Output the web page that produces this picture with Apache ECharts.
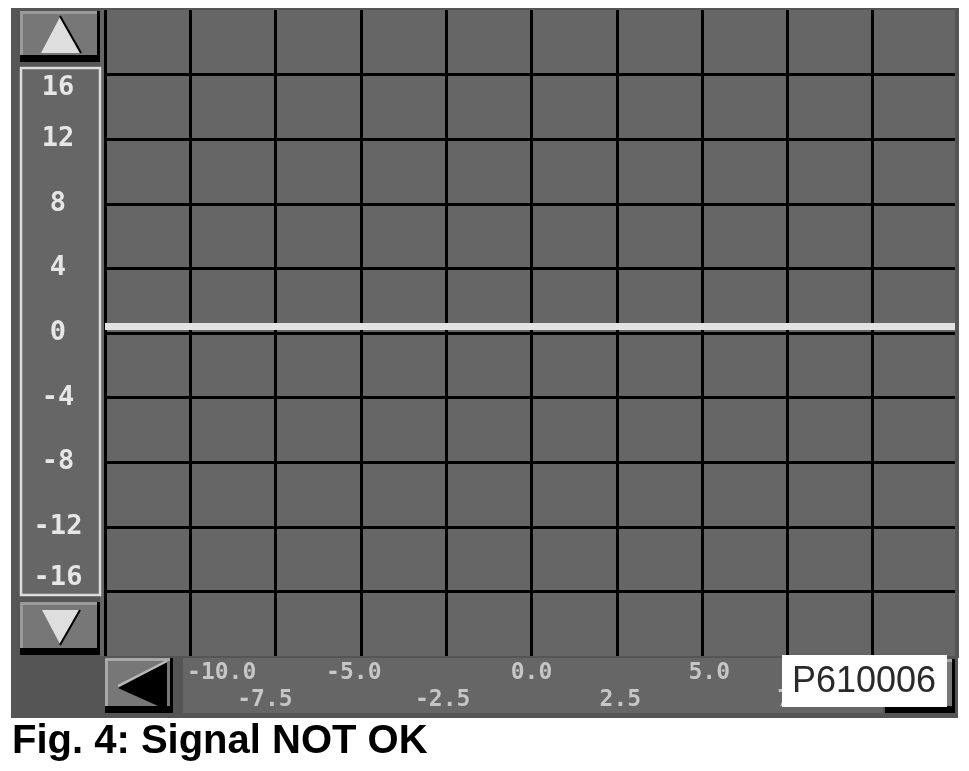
<!DOCTYPE html>
<html>
<head>
<meta charset="utf-8">
<style>
html,body{margin:0;padding:0;background:#fff;}
#c{width:969px;height:771px;}
</style>
<script src="https://cdn.jsdelivr.net/npm/echarts@6/dist/echarts.min.js"></script>
</head>
<body>
<div id="c"></div>
<script>
// ---- data ----
var xTickValues = [-10, -7.5, -5, -2.5, 0, 2.5, 5, 7.5];
var xTickLabels = ['-10.0', '-7.5', '-5.0', '-2.5', '0.0', '2.5', '5.0', '7.5'];
var yTickValues = [-16, -12, -8, -4, 0, 4, 8, 12, 16];
var yTickLabels = ['-16', '-12', '-8', '-4', '0', '4', '8', '12', '16'];
var signalX = [-12, 12];
var signalY = [0.4, 0.4];
var captionText = 'Fig. 4: Signal NOT OK';
var stampText = 'P610006';

var signalData = signalX.map(function (x, i) { return [x, signalY[i]]; });

// split tick values into the two label rows (alternating)
var firstVals = [xTickValues[0]];
var topVals = xTickValues.filter(function (v, i) { return i % 2 === 0 && i > 0; });
var bottomVals = xTickValues.filter(function (v, i) { return i % 2 === 1; });

function xLabel(v) {
  var i = xTickValues.indexOf(v);
  return i < 0 ? '' : xTickLabels[i];
}
function yLabel(v) {
  var i = yTickValues.indexOf(v);
  return i < 0 ? '' : yTickLabels[i];
}

var chart = echarts.init(document.getElementById('c'), null, {renderer: 'canvas'});

function bevelButton(x, y, w, h, light) {
  return [
    {type: 'rect', z: 50, shape: {x: x, y: y, width: w, height: h}, style: {fill: '#000'}},
    {type: 'rect', z: 51, shape: {x: x, y: y, width: w - 3, height: h - 7}, style: {fill: light}},
    {type: 'rect', z: 52, shape: {x: x + 3, y: y + 3, width: w - 6, height: h - 10}, style: {fill: '#777'}}
  ];
}

var graphics = [
  {type: 'rect', z: -20, shape: {x: 11, y: 8, width: 947, height: 710}, style: {fill: '#555'}},
  {type: 'rect', z: -19, shape: {x: 100, y: 10, width: 855, height: 646}, style: {fill: '#666'}},
  {type: 'rect', z: -18, shape: {x: 21, y: 68, width: 79, height: 527}, style: {fill: '#666', stroke: '#dcdcdc', lineWidth: 2.5}},
  {type: 'rect', z: -18, shape: {x: 183, y: 658, width: 700, height: 55}, style: {fill: '#666'}},
  {type: 'rect', z: 60, shape: {x: 955, y: 8, width: 4, height: 650}, style: {fill: '#555'}}
];
graphics = graphics.concat(bevelButton(20, 11, 80, 51, '#9a9a9a'));
graphics.push({type: 'polygon', z: 53, shape: {points: [[60, 17], [80, 53], [41, 53]]}, style: {fill: '#dedede'}});
graphics.push({type: 'polyline', z: 54, shape: {points: [[60, 16], [81, 53]]}, style: {stroke: '#000', lineWidth: 2}});

graphics = graphics.concat(bevelButton(20, 602, 80, 53, '#9a9a9a'));
graphics.push({type: 'polygon', z: 53, shape: {points: [[42, 610], [80, 610], [60, 644]]}, style: {fill: '#dedede'}});
graphics.push({type: 'polyline', z: 54, shape: {points: [[80, 610], [60, 645]]}, style: {stroke: '#000', lineWidth: 2}});

graphics = graphics.concat(bevelButton(105, 658, 68, 55, '#a8a8a8'));
graphics.push({type: 'polygon', z: 53, shape: {points: [[118, 688], [167, 662], [167, 710]]}, style: {fill: '#000'}});
graphics.push({type: 'polyline', z: 54, shape: {points: [[118, 686], [167, 661]]}, style: {stroke: '#bbb', lineWidth: 2}});

graphics = graphics.concat(bevelButton(885, 659, 70, 54, '#a8a8a8'));
graphics.push({type: 'rect', z: 70, shape: {x: 782, y: 655, width: 165, height: 52}, style: {fill: '#fff'}});
graphics.push({type: 'text', z: 71, x: 864, y: 682, style: {text: stampText, fill: '#2a2a2a', font: '36px "Liberation Sans", Arial, sans-serif', align: 'center', verticalAlign: 'middle'}});
graphics.push({type: 'text', z: 71, x: 12, y: 742, style: {text: captionText, fill: '#000', font: 'bold 40px "Liberation Sans", Arial, sans-serif', align: 'left', verticalAlign: 'middle'}});

var xFont = {fontFamily: '"DejaVu Sans Mono", monospace', fontWeight: 'bold', fontSize: 23, color: '#c6c6c6'};

function labelAxis(vals, margin, extra) {
  var lbl = {show: true, customValues: vals, margin: margin, verticalAlign: 'top', formatter: xLabel,
    fontFamily: xFont.fontFamily, fontWeight: xFont.fontWeight, fontSize: xFont.fontSize, color: xFont.color};
  if (extra) { for (var k in extra) lbl[k] = extra[k]; }
  return {
    type: 'value', min: -12, max: 12, position: 'bottom',
    axisLine: {show: false},
    axisTick: {show: false, customValues: vals},
    splitLine: {show: false},
    axisLabel: lbl
  };
}

var yRich = {fontFamily: '"DejaVu Sans Mono", monospace', fontWeight: 'bold', fontSize: 27, color: '#e6e6e6'};

var option = {
  animation: false,
  backgroundColor: '#fff',
  grid: {left: 105, top: 10, width: 853, height: 646},
  xAxis: [
    {
      type: 'value', min: -12, max: 12, interval: 2.4,
      axisLine: {show: false}, axisTick: {show: false}, axisLabel: {show: false},
      splitLine: {show: true, showMaxLine: false, lineStyle: {color: '#000', width: 3}}
    },
    labelAxis(topVals, 6),
    labelAxis(bottomVals, 33),
    labelAxis(firstVals, 6, {align: 'left', padding: [0, 0, 0, 11]})
  ],
  yAxis: [
    {
      type: 'value', min: -20, max: 20, interval: 4,
      axisLine: {show: false},
      axisTick: {show: false},
      splitLine: {show: true, showMinLine: false, showMaxLine: false, lineStyle: {color: '#000', width: 3}},
      axisLabel: {
        show: true, customValues: yTickValues.filter(function (v) { return Math.abs(v) !== 16; }),
        margin: 47, align: 'center', verticalAlign: 'middle', formatter: yLabel,
        fontFamily: yRich.fontFamily, fontWeight: 'bold', fontSize: 27, color: yRich.color
      }
    },
    {
      // top / bottom labels are pushed inward inside the label box
      type: 'value', min: -20, max: 20, position: 'left',
      axisLine: {show: false}, axisTick: {show: false}, splitLine: {show: false},
      axisLabel: {
        show: true, customValues: yTickValues.filter(function (v) { return v === 16; }),
        margin: 47, align: 'center', verticalAlign: 'top', formatter: yLabel,
        fontFamily: yRich.fontFamily, fontWeight: 'bold', fontSize: 27, color: yRich.color
      }
    },
    {
      type: 'value', min: -20, max: 20, position: 'left',
      axisLine: {show: false}, axisTick: {show: false}, splitLine: {show: false},
      axisLabel: {
        show: true, customValues: yTickValues.filter(function (v) { return v === -16; }),
        margin: 47, align: 'center', verticalAlign: 'bottom', formatter: yLabel,
        fontFamily: yRich.fontFamily, fontWeight: 'bold', fontSize: 27, color: yRich.color
      }
    }
  ],
  series: [{
    type: 'line', xAxisIndex: 0, yAxisIndex: 0, data: signalData, symbol: 'none', z: 10,
    lineStyle: {color: '#e2e2e2', width: 7}, silent: true
  }],
  graphic: graphics
};
chart.setOption(option);
</script>
</body>
</html>
